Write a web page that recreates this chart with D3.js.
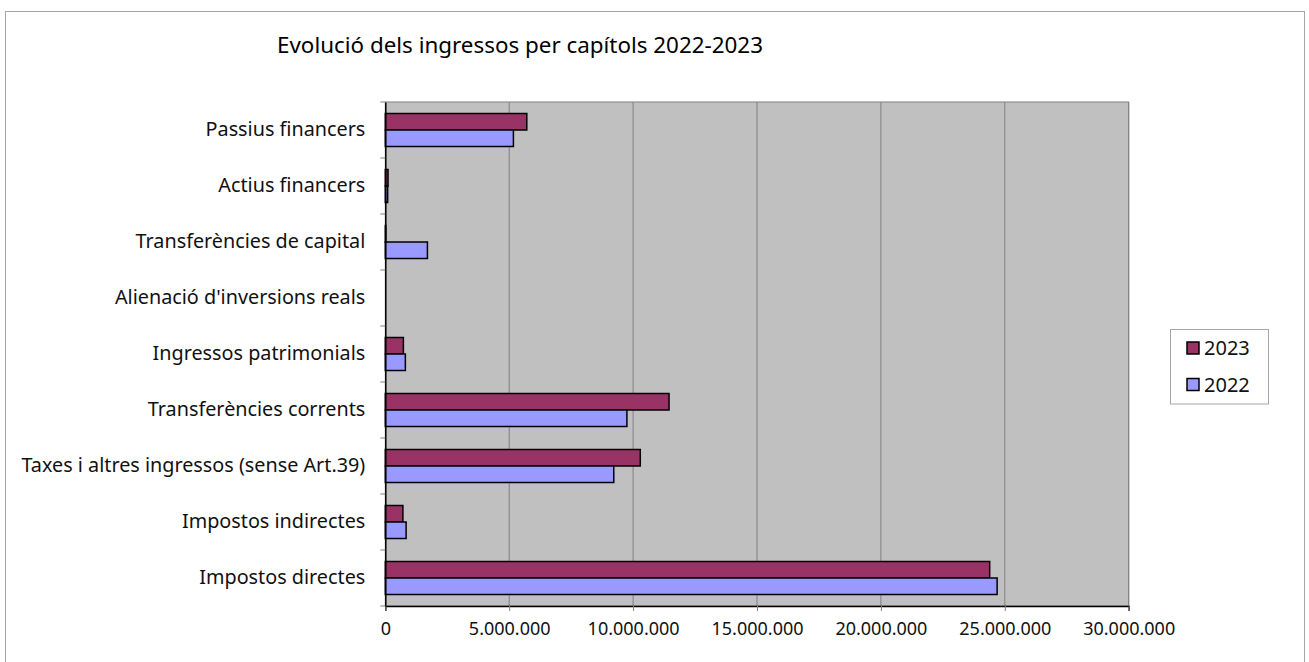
<!DOCTYPE html>
<html>
<head>
<meta charset="utf-8">
<script src="https://cdn.jsdelivr.net/npm/d3@7"></script>
<style>
  html, body { margin: 0; padding: 0; background: #fff; }
  svg { display: block; font-family: "Noto Sans", "Open Sans", sans-serif; }
</style>
</head>
<body>
<div id="chart"></div>
<script>
// --- Data ---
const categories = [
  'Passius financers',
  'Actius financers',
  'Transferències de capital',
  "Alienació d'inversions reals",
  'Ingressos patrimonials',
  'Transferències corrents',
  'Taxes i altres ingressos (sense Art.39)',
  'Impostos indirectes',
  'Impostos directes'
];
const seriesNames = ['2023', '2022'];
const values2023 = [5710000, 110000, 20000, 0, 730000, 11450000, 10290000, 710000, 24390000];
const values2022 = [5170000, 95000, 1700000, 0, 810000, 9750000, 9220000, 840000, 24690000];
const tickValues = [0, 5000000, 10000000, 15000000, 20000000, 25000000, 30000000];
const colors = { '2023': '#993366', '2022': '#9999ff' };

const W = 1309, H = 662;
const plot = { left: 385.3, right: 1128.7, top: 102, bottom: 606 };

const svg = d3.select('#chart').append('svg')
  .attr('width', W).attr('height', H);

// outer chart frame
svg.append('rect')
  .attr('x', 5.5).attr('y', 11.5)
  .attr('width', 1299).attr('height', 700)
  .attr('fill', '#fff').attr('stroke', '#a6a6a6').attr('stroke-width', 1);

// title
svg.append('text')
  .attr('x', 520).attr('y', 53)
  .attr('text-anchor', 'middle')
  .attr('font-size', 22.4)
  .attr('fill', '#000')
  .text('Evolució dels ingressos per capítols 2022-2023');

// --- Scales ---
const x = d3.scaleLinear().domain([0, 30000000]).range([plot.left, plot.right]);
const y = d3.scaleBand().domain(categories).range([plot.top, plot.bottom]);
const barH = 16.5;
const y1 = d3.scaleBand().domain(seriesNames)
  .range([(y.bandwidth() - 2 * barH) / 2, (y.bandwidth() + 2 * barH) / 2]);

// plot background
svg.append('rect')
  .attr('x', plot.left).attr('y', plot.top)
  .attr('width', plot.right - plot.left).attr('height', plot.bottom - plot.top)
  .attr('fill', '#c0c0c0').attr('stroke', '#808080').attr('stroke-width', 1);

// gridlines
svg.append('g').selectAll('line')
  .data(tickValues.slice(1))
  .join('line')
  .attr('x1', d => x(d)).attr('x2', d => x(d))
  .attr('y1', plot.top).attr('y2', plot.bottom)
  .attr('stroke', '#808080').attr('stroke-width', 1);

// bars
const rows = categories.map((c, i) => ({ cat: c, vals: [
  { s: '2023', v: values2023[i] },
  { s: '2022', v: values2022[i] }
]}));

const groups = svg.append('g').selectAll('g')
  .data(rows)
  .join('g')
  .attr('transform', d => `translate(0,${y(d.cat)})`);

groups.selectAll('rect')
  .data(d => d.vals.filter(e => e.v > 0))
  .join('rect')
  .attr('x', x(0))
  .attr('y', d => y1(d.s))
  .attr('width', d => x(d.v) - x(0))
  .attr('height', y1.bandwidth())
  .attr('fill', d => colors[d.s])
  .attr('stroke', '#000')
  .attr('stroke-width', 1.5);

// axes
const xAxis = d3.axisBottom(x)
  .tickValues(tickValues)
  .tickSize(5)
  .tickPadding(11)
  .tickFormat(d => d3.format(',')(d).replace(/,/g, '.'));

svg.append('g')
  .attr('transform', `translate(0,${plot.bottom})`)
  .call(xAxis)
  .call(g => g.select('.domain').attr('stroke', '#000').attr('stroke-width', 1.5))
  .call(g => g.selectAll('.tick line').attr('stroke', '#808080'))
  .call(g => g.selectAll('.tick text')
    .attr('font-size', 18).attr('fill', '#111')
    .attr('font-family', '"Noto Sans", sans-serif'));

const yAxis = d3.axisLeft(y)
  .tickSize(0)
  .tickPadding(20);

svg.append('g')
  .attr('transform', `translate(${plot.left},0)`)
  .call(yAxis)
  .call(g => g.select('.domain').attr('stroke', '#000').attr('stroke-width', 1.5))
  .call(g => g.selectAll('.tick text')
    .attr('font-size', 19.8).attr('fill', '#111')
    .attr('font-family', '"Noto Sans", sans-serif'));

// category separator ticks on the left axis
svg.append('g').selectAll('line')
  .data(d3.range(categories.length + 1))
  .join('line')
  .attr('x1', plot.left - 5).attr('x2', plot.left)
  .attr('y1', i => plot.top + i * y.bandwidth())
  .attr('y2', i => plot.top + i * y.bandwidth())
  .attr('stroke', '#808080');

// legend
const legend = svg.append('g');
legend.append('rect')
  .attr('x', 1170.5).attr('y', 329.5)
  .attr('width', 98).attr('height', 74.5)
  .attr('fill', '#fff').attr('stroke', '#a6a6a6');

const items = legend.selectAll('g')
  .data(seriesNames)
  .join('g')
  .attr('transform', (d, i) => `translate(1187,${348 + i * 36.5})`);

items.append('rect')
  .attr('x', 0).attr('y', -6)
  .attr('width', 12).attr('height', 12)
  .attr('fill', d => colors[d])
  .attr('stroke', '#000').attr('stroke-width', 1.5);

items.append('text')
  .attr('x', 17).attr('y', 0)
  .attr('dy', '0.35em')
  .attr('font-size', 20)
  .attr('fill', '#111')
  .text(d => d);
</script>
</body>
</html>
